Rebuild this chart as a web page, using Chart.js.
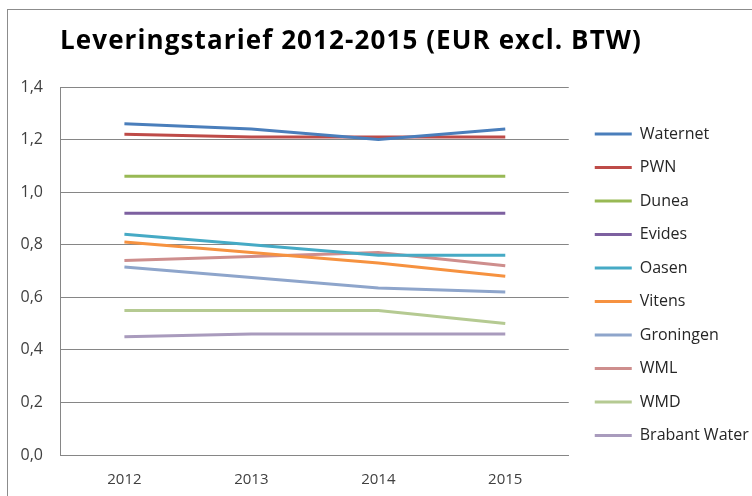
<!DOCTYPE html>
<html>
<head>
<meta charset="utf-8">
<script src="https://cdn.jsdelivr.net/npm/chart.js@4/dist/chart.umd.min.js"></script>
<style>
  html, body { margin: 0; padding: 0; background: #fff; }
  #wrap { position: relative; width: 752px; height: 496px; overflow: hidden; }
  #frame { position: absolute; left: 7px; top: 9px; width: 900px; height: 700px; border: 1px solid #8c8c8c; }
  #title {
    position: absolute; left: 60px; top: 26px; margin: 0;
    font: bold 26px/1 'Open Sans', sans-serif; letter-spacing: 1.1px;
    color: #000; white-space: nowrap;
  }
  canvas { position: absolute; left: 0; top: 0; }
</style>
</head>
<body>
<div id="wrap">
  <div id="frame"></div>
  <canvas id="chart" width="752" height="496"></canvas>
  <h1 id="title">Leveringstarief 2012-2015 (EUR excl. BTW)</h1>
</div>
<script>
// ── Data ──────────────────────────────────────────────────────────────────────
const YEARS = ['2012', '2013', '2014', '2015'];

const WATERNET  = [1.26, 1.24, 1.20, 1.24];
const PWN       = [1.22, 1.21, 1.21, 1.21];
const DUNEA     = [1.06, 1.06, 1.06, 1.06];
const EVIDES    = [0.92, 0.92, 0.92, 0.92];
const OASEN     = [0.84, 0.80, 0.76, 0.76];
const VITENS    = [0.81, 0.77, 0.73, 0.68];
const GRONINGEN = [0.715, 0.675, 0.635, 0.62];
const WML       = [0.74, 0.755, 0.77, 0.72];
const WMD       = [0.55, 0.55, 0.55, 0.50];
const BRABANT   = [0.45, 0.46, 0.46, 0.46];

const Y_TICKS = [0, 0.2, 0.4, 0.6, 0.8, 1.0, 1.2, 1.4];

// ── Colours (Excel 2010 palette) ──────────────────────────────────────────────
const SERIES = [
  ['Waternet',      WATERNET,  '#4A7EBB'],
  ['PWN',           PWN,       '#BE4B48'],
  ['Dunea',         DUNEA,     '#98B954'],
  ['Evides',        EVIDES,    '#7D60A0'],
  ['Oasen',         OASEN,     '#46AAC5'],
  ['Vitens',        VITENS,    '#F69240'],
  ['Groningen',     GRONINGEN, '#8EA5CB'],
  ['WML',           WML,       '#CE8E8D'],
  ['WMD',           WMD,       '#B5CA92'],
  ['Brabant Water', BRABANT,   '#A99BBD'],
];

const GRID = '#868686';
const FONT = 'Open Sans';

const datasets = SERIES.map(([label, data, color]) => ({
  label, data,
  borderColor: color,
  backgroundColor: color,
  borderWidth: 3,
  pointRadius: 0,
  tension: 0,
  fill: false,
}));

// Legend entries as one-line arrays so the row height follows font.lineHeight
// (keeps the vertical step independent of the horizontal padding)
function legendLabels(chart) {
  return Chart.defaults.plugins.legend.labels.generateLabels(chart)
    .map(item => ({ ...item, text: [item.text] }));
}

new Chart(document.getElementById('chart'), {
  type: 'line',
  data: { labels: YEARS, datasets },
  options: {
    responsive: false,
    animation: false,
    layout: { padding: { left: 2.5, right: -5.5, top: 87, bottom: -9 } },
    plugins: {
      title: { display: false },
      legend: {
        position: 'right',
        align: 'start',
        // empty title only used as a spacer to push the entries down
        title: { display: true, text: '', font: { size: 12, lineHeight: 1.0 }, padding: { top: 1, bottom: 0 } },
        labels: {
          usePointStyle: true,
          pointStyle: 'line',
          pointStyleWidth: 37,
          padding: 26,
          color: '#262626',
          font: { family: FONT, size: 16, lineHeight: '7.5px' },
          generateLabels: legendLabels,
        },
      },
      tooltip: { enabled: false },
    },
    scales: {
      x: {
        offset: true,
        grid: { display: false, drawTicks: false },
        border: { display: true, color: GRID },
        ticks: { color: '#404040', padding: 16, font: { family: FONT, size: 15 } },
      },
      y: {
        min: 0, max: 1.4,
        afterBuildTicks: s => { s.ticks = Y_TICKS.map(v => ({ value: v })); },
        grid: { color: GRID, drawTicks: false },
        border: { display: true, color: GRID },
        ticks: {
          color: '#404040', padding: 18,
          font: { family: FONT, size: 16 },
          callback: v => v.toFixed(1).replace('.', ','),
        },
      },
    },
  },
});
</script>
</body>
</html>
